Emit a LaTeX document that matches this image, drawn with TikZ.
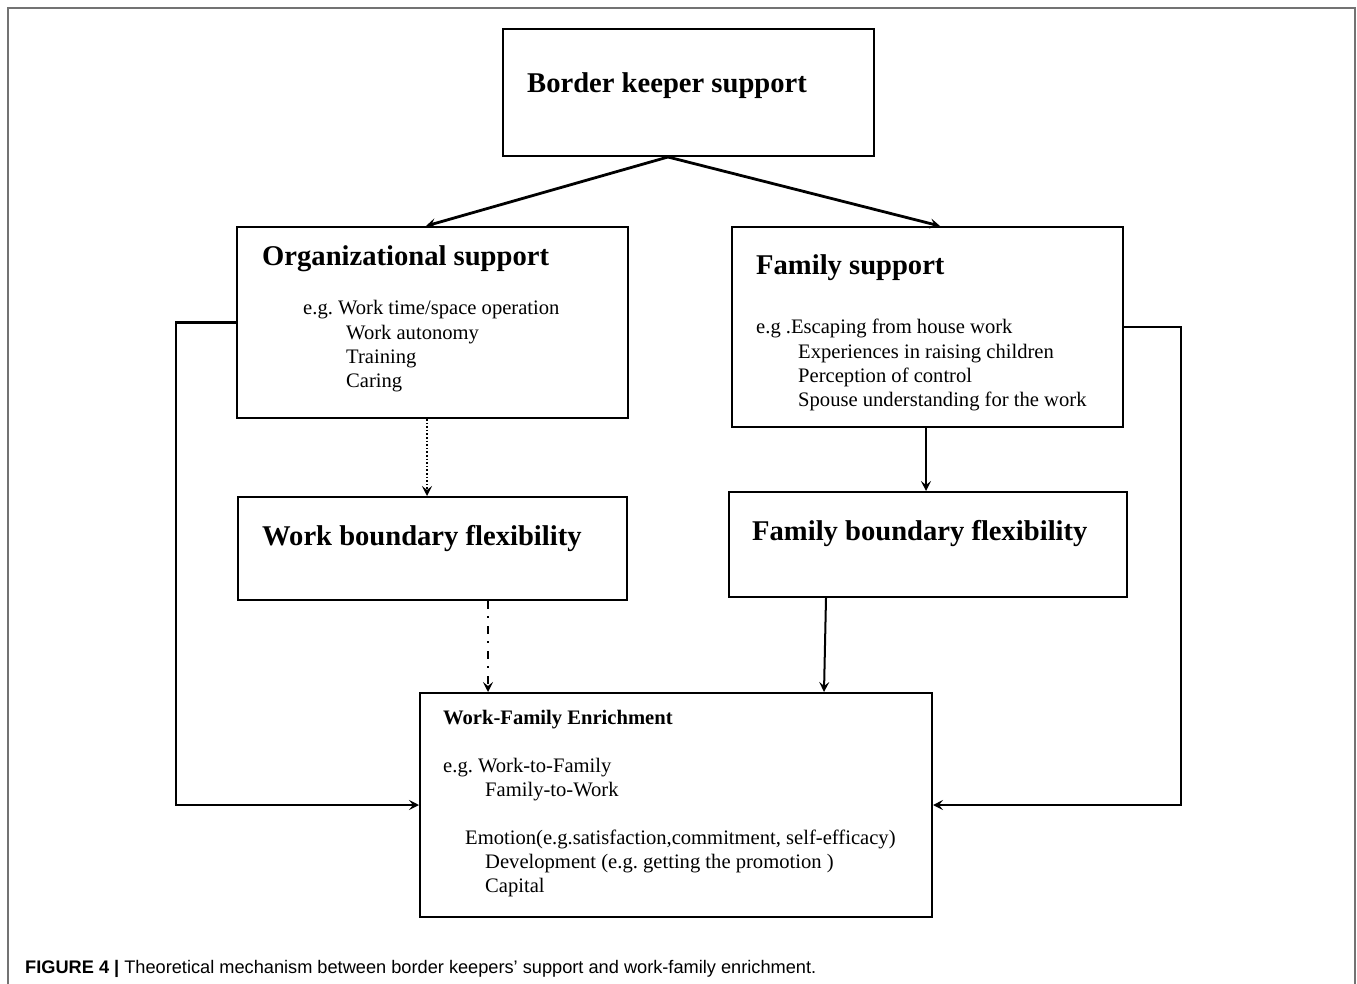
\documentclass[tikz,border=0pt]{standalone}
\usepackage{fontspec}
\setmainfont{Liberation Serif}
\newfontfamily\capfont{Liberation Sans}
\usetikzlibrary{arrows.meta}
\frenchspacing
\begin{document}
\begin{tikzpicture}[x=1pt,y=-1pt,
  box/.style={draw, line width=2pt, anchor=north west, inner sep=0pt},
  ttl/.style={anchor=base west, inner sep=0pt, font=\fontsize{28.6}{30}\selectfont\bfseries},
  body/.style={anchor=base west, inner sep=0pt, font=\fontsize{20.6}{24}\selectfont},
  arr/.style={-{Stealth[length=10pt,width=10pt,inset=4pt]}, line width=2pt},
  frame/.style={draw=black!55, line width=1.6pt}
]
\useasboundingbox (0,0) rectangle (1357,984);
\draw[frame] (8,984) -- (8,8) -- (1355,8) -- (1355,984);

% boxes
\node[box, minimum width=371pt, minimum height=127pt] (bk) at (502,28) {};
\node[box, minimum width=391pt, minimum height=191pt] (org) at (236,226) {};
\node[box, minimum width=391pt, minimum height=200pt] (fam) at (731,226) {};
\node[box, minimum width=389pt, minimum height=103pt] (wbf) at (237,496) {};
\node[box, minimum width=398pt, minimum height=105pt] (fbf) at (728,491) {};
\node[box, minimum width=512pt, minimum height=224pt] (wfe) at (419,692) {};

% titles
\node[ttl] (bkt) at (527,93) {Border keeper support};
\node[ttl] (orgt) at (262,266) {Organizational support};
\node[ttl] (famt) at (756,275) {Family support};
\node[ttl] (wbft) at (262,545) {Work boundary flexibility};
\node[ttl] (fbft) at (752,540) {Family boundary flexibility};
\node[body, font=\fontsize{20.6}{24}\selectfont\bfseries] (wfet) at (443,724) {Work-Family Enrichment};

% organizational body
\node[body] (o1) at (303,315) {e.g. Work time/space operation};
\node[body] (o2) at (346,339) {Work autonomy};
\node[body] (o3) at (346,363) {Training};
\node[body] (o4) at (346,387) {Caring};

% family body
\node[body] (f1) at (756,334) {e.g .Escaping from house work};
\node[body] (f2) at (798,358) {Experiences in raising children};
\node[body] (f3) at (798,382) {Perception of control};
\node[body] (f4) at (798,406) {Spouse understanding for the work};

% enrichment body
\node[body] (e1) at (443,772) {e.g. Work-to-Family};
\node[body] (e2) at (485,796) {Family-to-Work};
\node[body] (e3) at (465,844) {Emotion(e.g.satisfaction,commitment, self-efficacy)};
\node[body] (e4) at (485,868) {Development (e.g. getting the promotion )};
\node[body] (e5) at (485,892) {Capital};

% connectors
\draw[arr, line width=2.8pt] ([xshift=166pt]bk.south west) -- ([xshift=190pt]org.north west);
\draw[arr, line width=2.8pt] ([xshift=166pt]bk.south west) -- ([xshift=209pt]fam.north west);
\draw[arr, line width=1.6pt, dash pattern=on 1.6pt off 2pt] ([xshift=191pt]org.south west) -- ([xshift=190pt]wbf.north west);
\draw[arr, line width=1.8pt, dash pattern=on 8pt off 7pt on 2pt off 8pt] ([xshift=251pt]wbf.south west) -- ([xshift=69pt]wfe.north west);
\draw[arr] ([xshift=195pt]fam.south west) -- ([xshift=198pt]fbf.north west);
\draw[arr] ([xshift=98pt]fbf.south west) -- ([xshift=405pt]wfe.north west);
\coordinate (L) at (176,0);
\coordinate (R) at (1181,0);
\draw[arr, line width=2.4pt] (org.west) -| (L |- wfe.west) -- (wfe.west);
\draw[arr, line width=2.4pt] (fam.east) -| (R |- wfe.east) -- (wfe.east);

% caption
\node[anchor=base west, inner sep=0pt, font=\capfont\fontsize{18.2}{20}\selectfont] (cap) at (25,973)
  {\textbf{FIGURE 4 |} Theoretical mechanism between border keepers’ support and work-family enrichment.};
\end{tikzpicture}
\end{document}
